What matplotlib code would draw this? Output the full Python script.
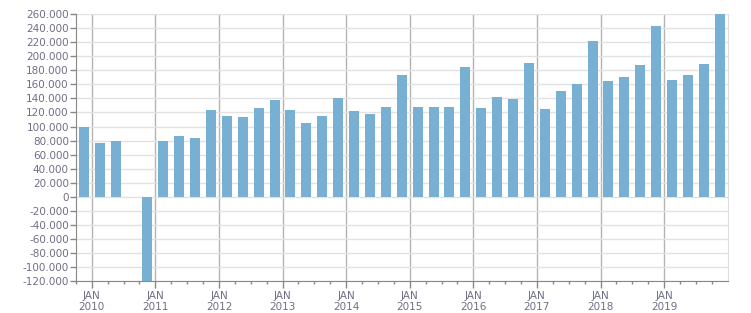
import matplotlib
matplotlib.use("Agg")
import matplotlib.pyplot as plt
from matplotlib.ticker import FuncFormatter, MultipleLocator

# quarterly values, Q4 2009 .. Q4 2019 (Q3 2010 missing)
quarters = [2009.875 + 0.25 * i for i in range(41)]
values = [100000, 77000, 79000, 0, -121000,
          79000, 87000, 83000, 124000, 115000, 113000, 126000, 138000,
          123000, 105000, 115000, 140000, 122000, 118000, 128000, 173000,
          128000, 128000, 128000, 184000, 126000, 142000, 139000, 190000,
          125000, 150000, 160000, 221000, 165000, 170000, 187000, 243000,
          166000, 173000, 189000, 261000]
years = list(range(2010, 2020))
year_labels = ["JAN\n%d" % y for y in years]

bar_color = "#77b0d3"
text_color = "#6e6e85"

fig = plt.figure(figsize=(7.51, 3.13), dpi=100)
ax = fig.add_axes([0.101, 0.102, 0.868, 0.853])

ax.bar(quarters, values, width=0.157, color=bar_color, zorder=3)

ax.set_xlim(2009.75, 2020.0)
ax.set_ylim(-120000, 260000)

# grid
ax.yaxis.set_major_locator(MultipleLocator(20000))
ax.grid(axis="y", color="#e2e2e2", linewidth=1, zorder=0)
for y in years:
    ax.axvline(y, color="#b4b4b4", linewidth=1, zorder=1)

ax.set_xticks(years)
ax.set_xticklabels(year_labels)
ax.set_xticks([2009.75 + 0.25 * i for i in range(41)], minor=True)

ax.yaxis.set_major_formatter(FuncFormatter(lambda v, p: "{:,.0f}".format(v).replace(",", ".")))

for s in ["top"]:
    ax.spines[s].set_visible(False)
ax.spines["right"].set_color("#dddddd")
ax.spines["left"].set_color("#888888")
ax.spines["bottom"].set_color("#888888")

ax.tick_params(axis="y", length=4, width=1, color="#888888", labelsize=7.5,
               labelcolor=text_color, pad=1)
ax.tick_params(axis="x", which="major", length=5, width=1, color="#888888",
               labelsize=7.5, labelcolor=text_color, pad=2)
ax.tick_params(axis="x", which="minor", length=2.5, width=1, color="#888888")

fig.savefig("out.png", dpi=100)
